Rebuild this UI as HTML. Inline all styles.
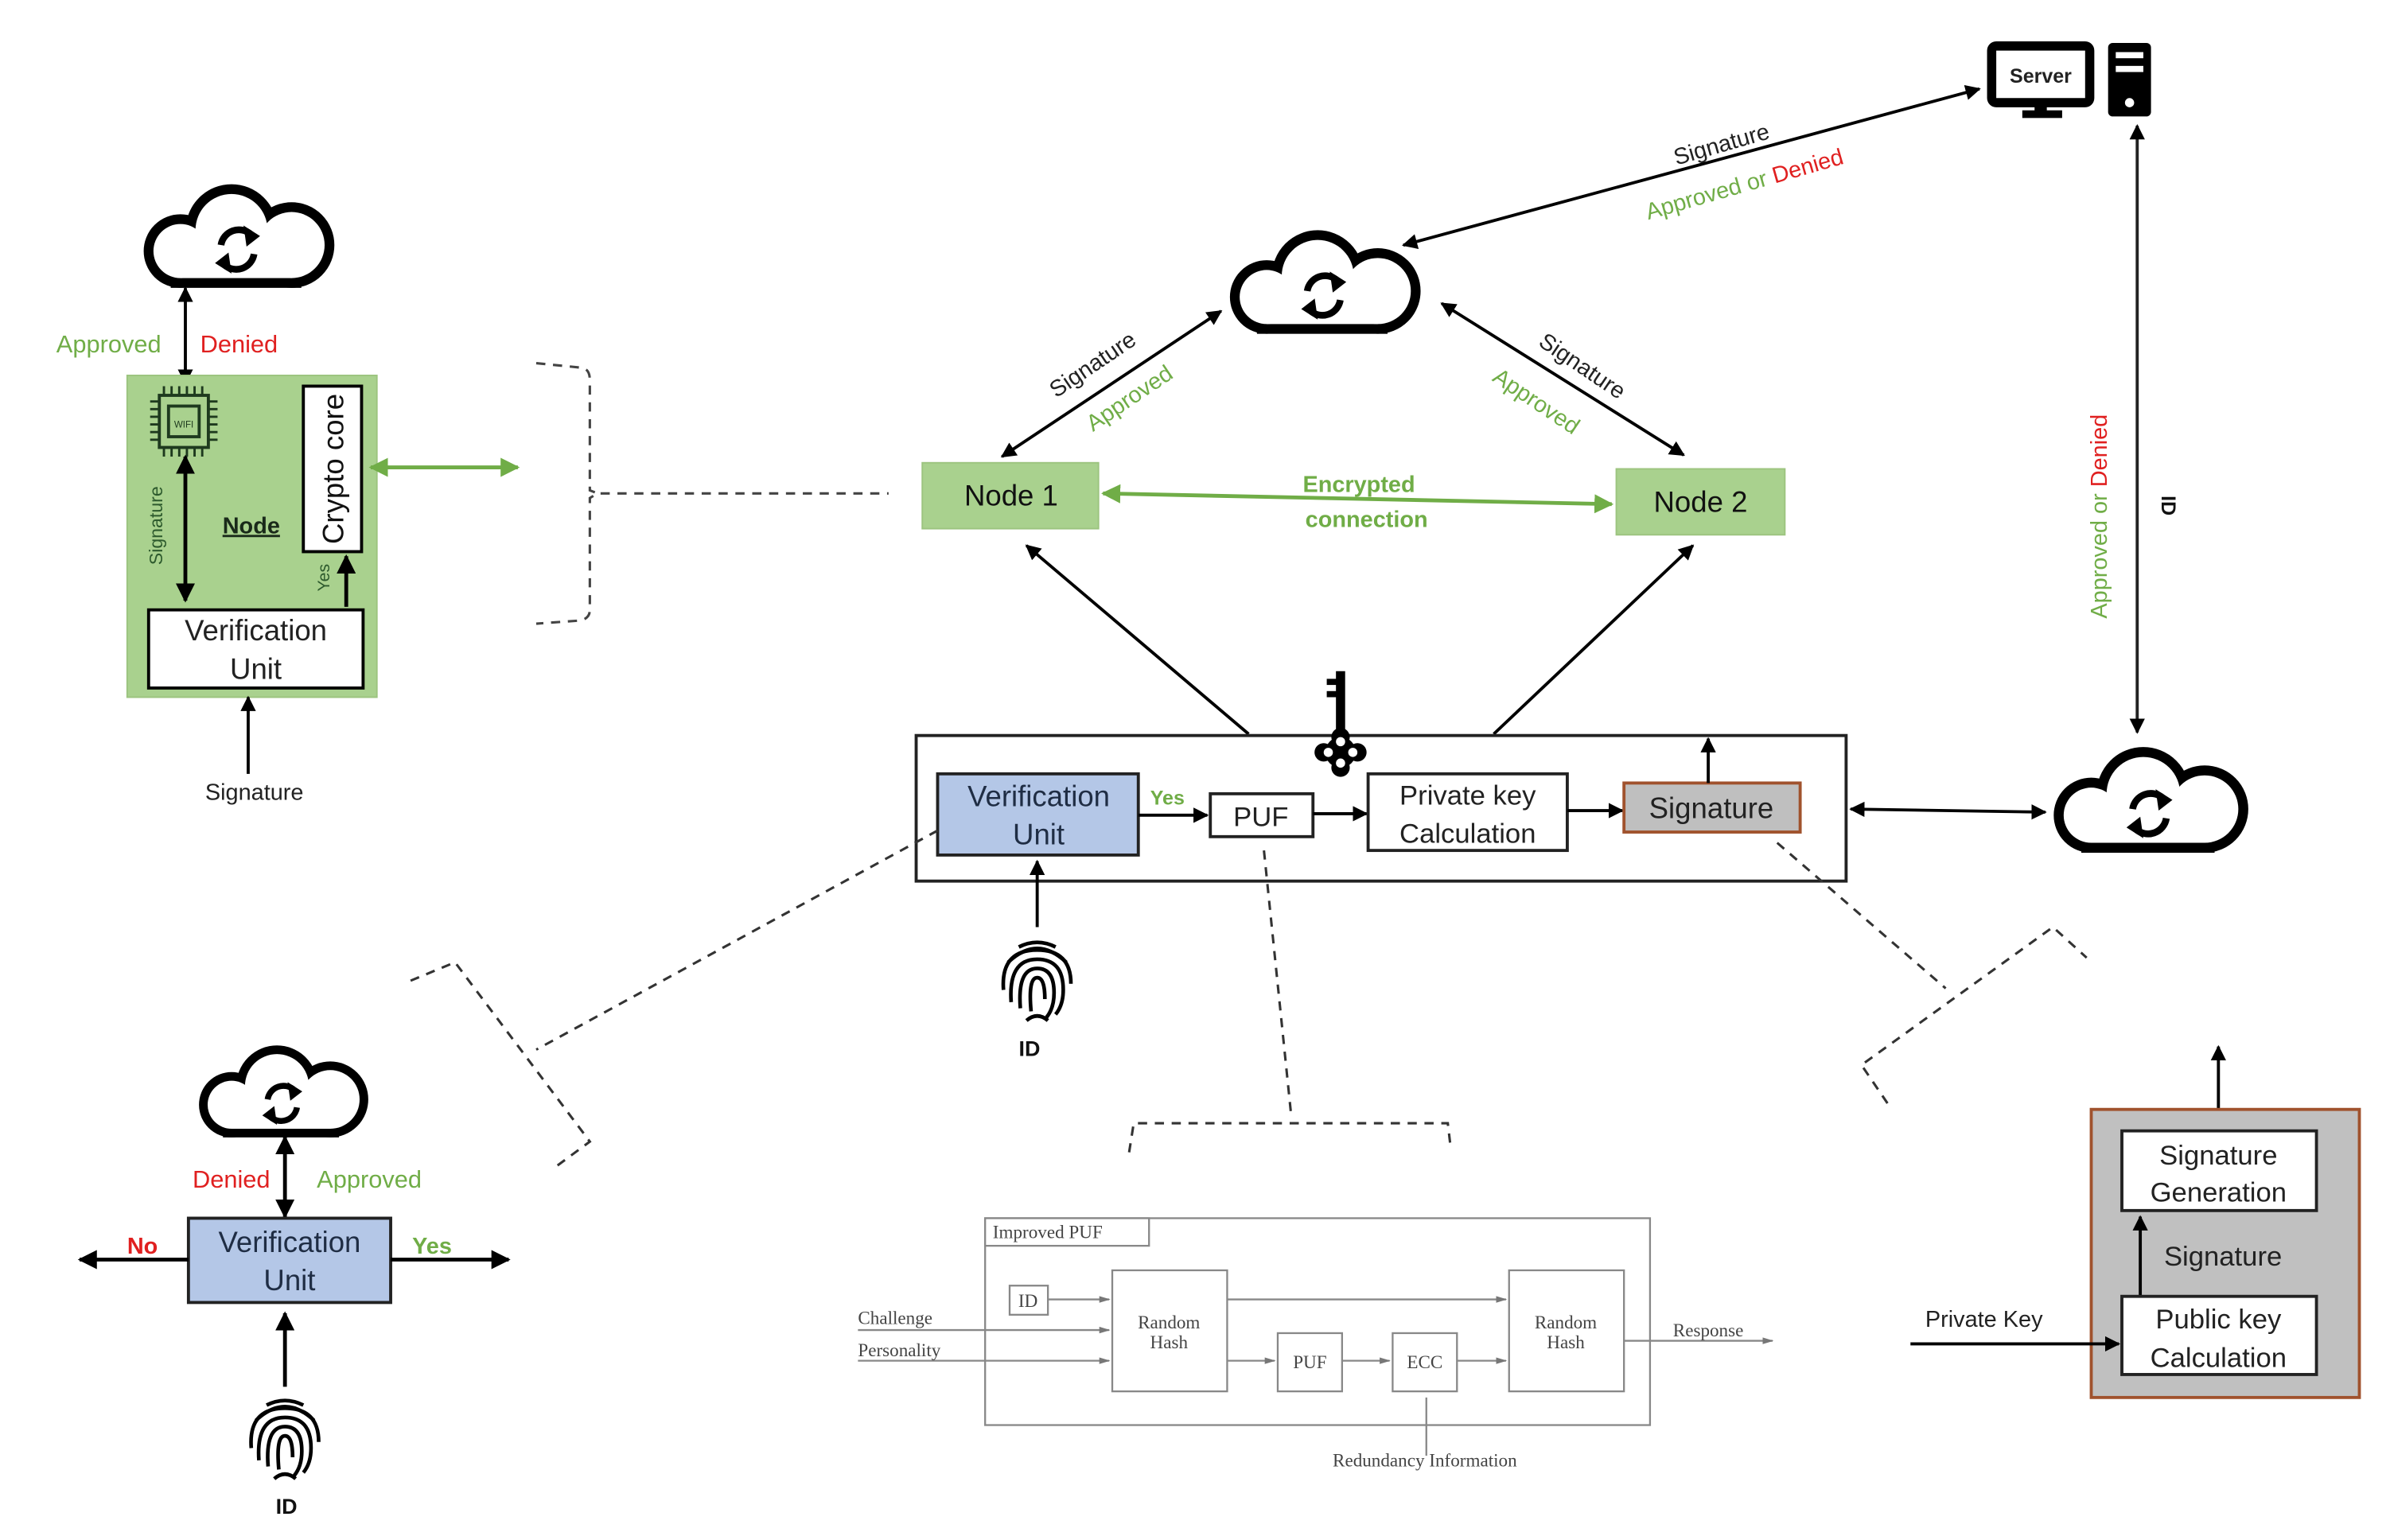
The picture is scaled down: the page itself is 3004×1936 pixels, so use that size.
<!DOCTYPE html>
<html><head><meta charset="utf-8"><style>
html,body{margin:0;padding:0;background:#fff;}
svg{display:block;}
text{font-family:"Liberation Sans","DejaVu Sans",sans-serif;}
.s{font-family:"Liberation Serif",serif;fill:#444;}
</style></head><body>
<svg width="3004" height="1936" viewBox="0 0 1560 1005" preserveAspectRatio="none" xmlns="http://www.w3.org/2000/svg">
<defs>
<marker id="a" viewBox="0 0 10 10" refX="9" refY="5" markerWidth="5" markerHeight="5" orient="auto-start-reverse"><path d="M0,0L10,5L0,10z" fill="#000"/></marker>
<marker id="g" viewBox="0 0 10 10" refX="9" refY="5" markerWidth="5" markerHeight="5" orient="auto-start-reverse"><path d="M0,0L10,5L0,10z" fill="#70ad47"/></marker>
<marker id="p" viewBox="0 0 10 10" refX="9" refY="5" markerWidth="6" markerHeight="6" orient="auto"><path d="M0,2L10,5L0,8z" fill="#777"/></marker>
<g id="cloud">
<g stroke="#000" stroke-width="13" fill="#000">
<circle cx="-40" cy="8" r="18"/><circle cx="-6" cy="-6" r="24"/><circle cx="34" cy="4" r="22"/><rect x="-40" y="0" width="74" height="26"/>
</g>
<g fill="#fff">
<circle cx="-40" cy="8" r="18"/><circle cx="-6" cy="-6" r="24"/><circle cx="34" cy="4" r="22"/><rect x="-40" y="0" width="74" height="26"/>
</g>
<g transform="translate(-2,4)">
<path d="M-11,0 A12,12 0 0 1 9,-7" fill="none" stroke="#000" stroke-width="4.5"/>
<path d="M4,-13 L15,-6 L6,1 Z" fill="#000"/>
<path d="M11,6 A12,12 0 0 1 -9,13" fill="none" stroke="#000" stroke-width="4.5"/>
<path d="M-4,19 L-15,12 L-6,5 Z" fill="#000"/>
</g>
</g>
<g id="fp" fill="none" stroke="#000" stroke-width="2.4">
<path d="M-12,-20 Q0,-26 12,-20"/>
<path d="M-19,-10 Q0,-28 19,-10"/>
<path d="M-22,8 Q-24,-18 0,-18 Q22,-18 22,4"/>
<path d="M-17,16 Q-19,-12 0,-12 Q17,-12 17,8 Q17,18 12,24"/>
<path d="M-11,20 Q-13,-6 0,-6 Q11,-6 11,10 Q11,20 6,26"/>
<path d="M-4,22 Q-6,0 0,0 Q5,0 5,14"/>
<path d="M-7,28 Q0,22 7,28"/>
</g>
</defs>

<!-- clouds -->
<use href="#cloud" transform="translate(157,156) scale(0.98)"/>
<use href="#cloud" transform="translate(866,186) scale(0.98)"/>
<use href="#cloud" transform="translate(1405,524) scale(1.0)"/>
<use href="#cloud" transform="translate(186,714) scale(0.87)"/>

<!-- server -->
<rect x="1300" y="30" width="64" height="37" rx="3" fill="#fff" stroke="#000" stroke-width="6"/>
<text x="1332" y="54" font-size="13" font-weight="bold" text-anchor="middle" fill="#222">Server</text>
<rect x="1328" y="67" width="8" height="6" fill="#000"/>
<rect x="1320" y="72" width="26" height="5" fill="#000"/>
<rect x="1376" y="28" width="28" height="48" rx="3" fill="#000"/>
<rect x="1381" y="34" width="18" height="4" fill="#fff"/>
<rect x="1381" y="43" width="18" height="4" fill="#fff"/>
<circle cx="1390" cy="67" r="3" fill="#fff"/>

<!-- left green node box -->
<line x1="121" y1="188" x2="121" y2="250" stroke="#000" stroke-width="2" marker-start="url(#a)" marker-end="url(#a)"/>
<text x="71" y="230" font-size="16" fill="#70ad47" text-anchor="middle">Approved</text>
<text x="156" y="230" font-size="16" fill="#e02020" text-anchor="middle">Denied</text>
<rect x="83" y="245" width="163" height="210" fill="#a9d18e" stroke="#9cc47f"/>
<rect x="104" y="258" width="32" height="34" fill="none" stroke="#1e3a1e" stroke-width="2"/>
<rect x="110" y="265" width="20" height="20" fill="none" stroke="#1e3a1e" stroke-width="2"/>
<text x="120" y="279" font-size="6" text-anchor="middle" fill="#1e3a1e">WIFI</text>
<g stroke="#1e3a1e" stroke-width="1.5">
<path d="M107,252v6M112,252v6M117,252v6M122,252v6M127,252v6M132,252v6M107,292v6M112,292v6M117,292v6M122,292v6M127,292v6M132,292v6M98,262h6M98,267h6M98,272h6M98,277h6M98,282h6M98,287h6M136,262h6M136,267h6M136,272h6M136,277h6M136,282h6M136,287h6"/>
</g>
<line x1="121" y1="298" x2="121" y2="392" stroke="#000" stroke-width="2.5" marker-start="url(#a)" marker-end="url(#a)"/>
<text transform="translate(106,343) rotate(-90)" font-size="12" fill="#2d5a2d" text-anchor="middle">Signature</text>
<text x="164" y="348" font-size="15" font-weight="bold" text-anchor="middle" fill="#1a2a1a" text-decoration="underline">Node</text>
<rect x="198" y="252" width="38" height="108" fill="#fff" stroke="#000" stroke-width="2"/>
<text transform="translate(224,306) rotate(-90)" font-size="19" text-anchor="middle" fill="#111">Crypto core</text>
<line x1="226" y1="396" x2="226" y2="363" stroke="#000" stroke-width="2.5" marker-end="url(#a)"/>
<text transform="translate(215,377) rotate(-90)" font-size="11" text-anchor="middle" fill="#2d5a2d">Yes</text>
<rect x="97" y="398" width="140" height="51" fill="#fff" stroke="#000" stroke-width="2"/>
<text x="167" y="418" font-size="19" text-anchor="middle" fill="#222">Verification</text>
<text x="167" y="443" font-size="19" text-anchor="middle" fill="#222">Unit</text>
<line x1="162" y1="505" x2="162" y2="455" stroke="#000" stroke-width="2" marker-end="url(#a)"/>
<text x="166" y="522" font-size="15" text-anchor="middle" fill="#222">Signature</text>
<line x1="242" y1="305" x2="338" y2="305" stroke="#70ad47" stroke-width="2.5" marker-start="url(#g)" marker-end="url(#g)"/>

<!-- left brace -->
<path d="M350,237 L380,240 Q385,241 385,248 L385,320 L390,322 L385,325 L385,398 Q385,404 378,405 L350,407" fill="none" stroke="#444" stroke-width="1.6" stroke-dasharray="6,5"/>
<line x1="392" y1="322" x2="580" y2="322" stroke="#444" stroke-width="1.6" stroke-dasharray="6,5"/>

<!-- nodes -->
<rect x="602" y="302" width="115" height="43" fill="#a9d18e" stroke="#9cc47f"/>
<text x="660" y="330" font-size="19" text-anchor="middle" fill="#111">Node 1</text>
<rect x="1055" y="306" width="110" height="43" fill="#a9d18e" stroke="#9cc47f"/>
<text x="1110" y="334" font-size="19" text-anchor="middle" fill="#111">Node 2</text>
<line x1="720" y1="322" x2="1052" y2="329" stroke="#70ad47" stroke-width="2.5" marker-start="url(#g)" marker-end="url(#g)"/>
<text x="887" y="321" font-size="15" font-weight="bold" text-anchor="middle" fill="#70ad47">Encrypted</text>
<text x="892" y="344" font-size="15" font-weight="bold" text-anchor="middle" fill="#70ad47">connection</text>

<!-- cloud-node links -->
<line x1="654" y1="298" x2="797" y2="203" stroke="#000" stroke-width="2" marker-start="url(#a)" marker-end="url(#a)"/>
<text transform="translate(716,242) rotate(-34)" font-size="15" text-anchor="middle" fill="#222">Signature</text>
<text transform="translate(740,264) rotate(-34)" font-size="15" text-anchor="middle" fill="#70ad47">Approved</text>
<line x1="941" y1="198" x2="1099" y2="297" stroke="#000" stroke-width="2" marker-start="url(#a)" marker-end="url(#a)"/>
<text transform="translate(1030,243) rotate(34)" font-size="15" text-anchor="middle" fill="#222">Signature</text>
<text transform="translate(1000,266) rotate(34)" font-size="15" text-anchor="middle" fill="#70ad47">Approved</text>
<line x1="916" y1="160" x2="1292" y2="58" stroke="#000" stroke-width="2" marker-start="url(#a)" marker-end="url(#a)"/>
<text transform="translate(1125,99) rotate(-16)" font-size="15" text-anchor="middle" fill="#222">Signature</text>
<text transform="translate(1140,125) rotate(-16)" font-size="15" text-anchor="middle"><tspan fill="#70ad47">Approved or </tspan><tspan fill="#e02020">Denied</tspan></text>
<line x1="1395" y1="82" x2="1395" y2="478" stroke="#222" stroke-width="2" marker-start="url(#a)" marker-end="url(#a)"/>
<text transform="translate(1375,337) rotate(-90)" font-size="15" text-anchor="middle"><tspan fill="#70ad47">Approved or </tspan><tspan fill="#e02020">Denied</tspan></text>
<text transform="translate(1411,330) rotate(90)" font-size="13" font-weight="bold" text-anchor="middle" fill="#111">ID</text>

<!-- main box -->
<line x1="815" y1="479" x2="670" y2="356" stroke="#000" stroke-width="2" marker-end="url(#a)"/>
<line x1="975" y1="479" x2="1105" y2="356" stroke="#000" stroke-width="2" marker-end="url(#a)"/>
<rect x="598" y="480" width="607" height="95" fill="none" stroke="#222" stroke-width="2"/>
<!-- key -->
<rect x="872" y="438" width="6" height="48" fill="#000"/>
<rect x="866" y="443" width="7" height="4" fill="#000"/>
<rect x="866" y="451" width="7" height="4" fill="#000"/>
<g fill="#000"><circle cx="875" cy="491" r="10"/><circle cx="864" cy="491" r="6"/><circle cx="886" cy="491" r="6"/><circle cx="875" cy="481" r="6"/><circle cx="875" cy="501" r="6"/></g>
<g fill="#fff"><circle cx="875" cy="484" r="3"/><circle cx="875" cy="498" r="3"/><circle cx="867" cy="491" r="3"/><circle cx="883" cy="491" r="3"/></g>

<rect x="612" y="505" width="131" height="53" fill="#b4c7e7" stroke="#222" stroke-width="2"/>
<text x="678" y="526" font-size="19" text-anchor="middle" fill="#1f2d44">Verification</text>
<text x="678" y="551" font-size="19" text-anchor="middle" fill="#1f2d44">Unit</text>
<text x="762" y="525" font-size="13" font-weight="bold" text-anchor="middle" fill="#70ad47">Yes</text>
<line x1="743" y1="532" x2="788" y2="532" stroke="#000" stroke-width="2" marker-end="url(#a)"/>
<rect x="790" y="518" width="67" height="28" fill="#fff" stroke="#222" stroke-width="2"/>
<text x="823" y="539" font-size="18" text-anchor="middle" fill="#222">PUF</text>
<line x1="857" y1="531" x2="892" y2="531" stroke="#000" stroke-width="2" marker-end="url(#a)"/>
<rect x="893" y="505" width="130" height="50" fill="#fff" stroke="#222" stroke-width="2"/>
<text x="958" y="525" font-size="18" text-anchor="middle" fill="#222">Private key</text>
<text x="958" y="550" font-size="18" text-anchor="middle" fill="#222">Calculation</text>
<line x1="1023" y1="529" x2="1059" y2="529" stroke="#000" stroke-width="2" marker-end="url(#a)"/>
<rect x="1060" y="511" width="115" height="32" fill="#bfbfbf" stroke="#a0522d" stroke-width="2"/>
<text x="1117" y="534" font-size="19" text-anchor="middle" fill="#222">Signature</text>
<line x1="1115" y1="511" x2="1115" y2="482" stroke="#000" stroke-width="2" marker-end="url(#a)"/>
<line x1="1208" y1="528" x2="1335" y2="530" stroke="#000" stroke-width="2" marker-start="url(#a)" marker-end="url(#a)"/>

<line x1="677" y1="605" x2="677" y2="562" stroke="#000" stroke-width="2" marker-end="url(#a)"/>
<use href="#fp" transform="translate(677,638)"/>
<text x="672" y="689" font-size="14" font-weight="bold" text-anchor="middle" fill="#111">ID</text>

<!-- dashed callouts -->
<g fill="none" stroke="#333" stroke-width="1.6" stroke-dasharray="6,5">
<line x1="612" y1="542" x2="350" y2="685"/>
<path d="M268,640 L297,628 L385,745 L362,762"/>
<path d="M825,555 L843,730"/>
<path d="M737,752 L740,733 L945,733 L947,750"/>
<path d="M1160,550 L1270,645"/>
<path d="M1232,720 L1215,695 L1340,605 L1362,625"/>
</g>

<!-- bottom-left verification -->
<line x1="186" y1="742" x2="186" y2="794" stroke="#000" stroke-width="2.5" marker-start="url(#a)" marker-end="url(#a)"/>
<text x="151" y="775" font-size="16" text-anchor="middle" fill="#e02020">Denied</text>
<text x="241" y="775" font-size="16" text-anchor="middle" fill="#70ad47">Approved</text>
<rect x="123" y="795" width="132" height="55" fill="#b4c7e7" stroke="#222" stroke-width="2"/>
<text x="189" y="817" font-size="19" text-anchor="middle" fill="#1f2d44">Verification</text>
<text x="189" y="842" font-size="19" text-anchor="middle" fill="#1f2d44">Unit</text>
<line x1="123" y1="822" x2="52" y2="822" stroke="#000" stroke-width="2.5" marker-end="url(#a)"/>
<text x="93" y="818" font-size="15" font-weight="bold" text-anchor="middle" fill="#e02020">No</text>
<line x1="255" y1="822" x2="332" y2="822" stroke="#000" stroke-width="2.5" marker-end="url(#a)"/>
<text x="282" y="818" font-size="15" font-weight="bold" text-anchor="middle" fill="#70ad47">Yes</text>
<line x1="186" y1="905" x2="186" y2="857" stroke="#000" stroke-width="2.5" marker-end="url(#a)"/>
<use href="#fp" transform="translate(186,937)"/>
<text x="187" y="988" font-size="14" font-weight="bold" text-anchor="middle" fill="#111">ID</text>

<!-- improved PUF -->
<g stroke="#888" stroke-width="1.2" fill="#fff">
<rect x="643" y="795" width="434" height="135"/>
<rect x="643" y="795" width="107" height="18"/>
<rect x="659" y="839" width="25" height="19"/>
<rect x="726" y="829" width="75" height="79"/>
<rect x="834" y="870" width="42" height="38"/>
<rect x="909" y="870" width="42" height="38"/>
<rect x="985" y="829" width="75" height="79"/>
</g>
<g stroke="#888" stroke-width="1.2" fill="none">
<line x1="684" y1="848" x2="724" y2="848" marker-end="url(#p)"/>
<line x1="560" y1="868" x2="724" y2="868" marker-end="url(#p)"/>
<line x1="560" y1="888" x2="724" y2="888" marker-end="url(#p)"/>
<line x1="801" y1="848" x2="983" y2="848" marker-end="url(#p)"/>
<line x1="801" y1="888" x2="832" y2="888" marker-end="url(#p)"/>
<line x1="876" y1="888" x2="907" y2="888" marker-end="url(#p)"/>
<line x1="951" y1="888" x2="983" y2="888" marker-end="url(#p)"/>
<line x1="1060" y1="875" x2="1157" y2="875" marker-end="url(#p)"/>
<line x1="931" y1="912" x2="931" y2="950"/>
</g>
<text class="s" x="648" y="808" font-size="12">Improved PUF</text>
<text class="s" x="671" y="853" font-size="12" text-anchor="middle">ID</text>
<text class="s" x="560" y="864" font-size="12">Challenge</text>
<text class="s" x="560" y="885" font-size="12">Personality</text>
<text class="s" x="763" y="867" font-size="12" text-anchor="middle">Random</text>
<text class="s" x="763" y="880" font-size="12" text-anchor="middle">Hash</text>
<text class="s" x="855" y="893" font-size="12" text-anchor="middle">PUF</text>
<text class="s" x="930" y="893" font-size="12" text-anchor="middle">ECC</text>
<text class="s" x="1022" y="867" font-size="12" text-anchor="middle">Random</text>
<text class="s" x="1022" y="880" font-size="12" text-anchor="middle">Hash</text>
<text class="s" x="1115" y="872" font-size="12" text-anchor="middle">Response</text>
<text class="s" x="930" y="957" font-size="12" text-anchor="middle">Redundancy Information</text>

<!-- right gray box -->
<line x1="1448" y1="724" x2="1448" y2="683" stroke="#000" stroke-width="2" marker-end="url(#a)"/>
<rect x="1365" y="724" width="175" height="188" fill="#c0c0c0" stroke="#a0522d" stroke-width="2"/>
<rect x="1385" y="738" width="127" height="52" fill="#fff" stroke="#222" stroke-width="2"/>
<text x="1448" y="760" font-size="18" text-anchor="middle" fill="#222">Signature</text>
<text x="1448" y="784" font-size="18" text-anchor="middle" fill="#222">Generation</text>
<line x1="1397" y1="846" x2="1397" y2="794" stroke="#000" stroke-width="2" marker-end="url(#a)"/>
<text x="1451" y="826" font-size="18" text-anchor="middle" fill="#222">Signature</text>
<rect x="1385" y="846" width="127" height="51" fill="#fff" stroke="#222" stroke-width="2"/>
<text x="1448" y="867" font-size="18" text-anchor="middle" fill="#222">Public key</text>
<text x="1448" y="892" font-size="18" text-anchor="middle" fill="#222">Calculation</text>
<line x1="1247" y1="877" x2="1383" y2="877" stroke="#000" stroke-width="2" marker-end="url(#a)"/>
<text x="1295" y="866" font-size="15" text-anchor="middle" fill="#222">Private Key</text>
</svg>
</body></html>
